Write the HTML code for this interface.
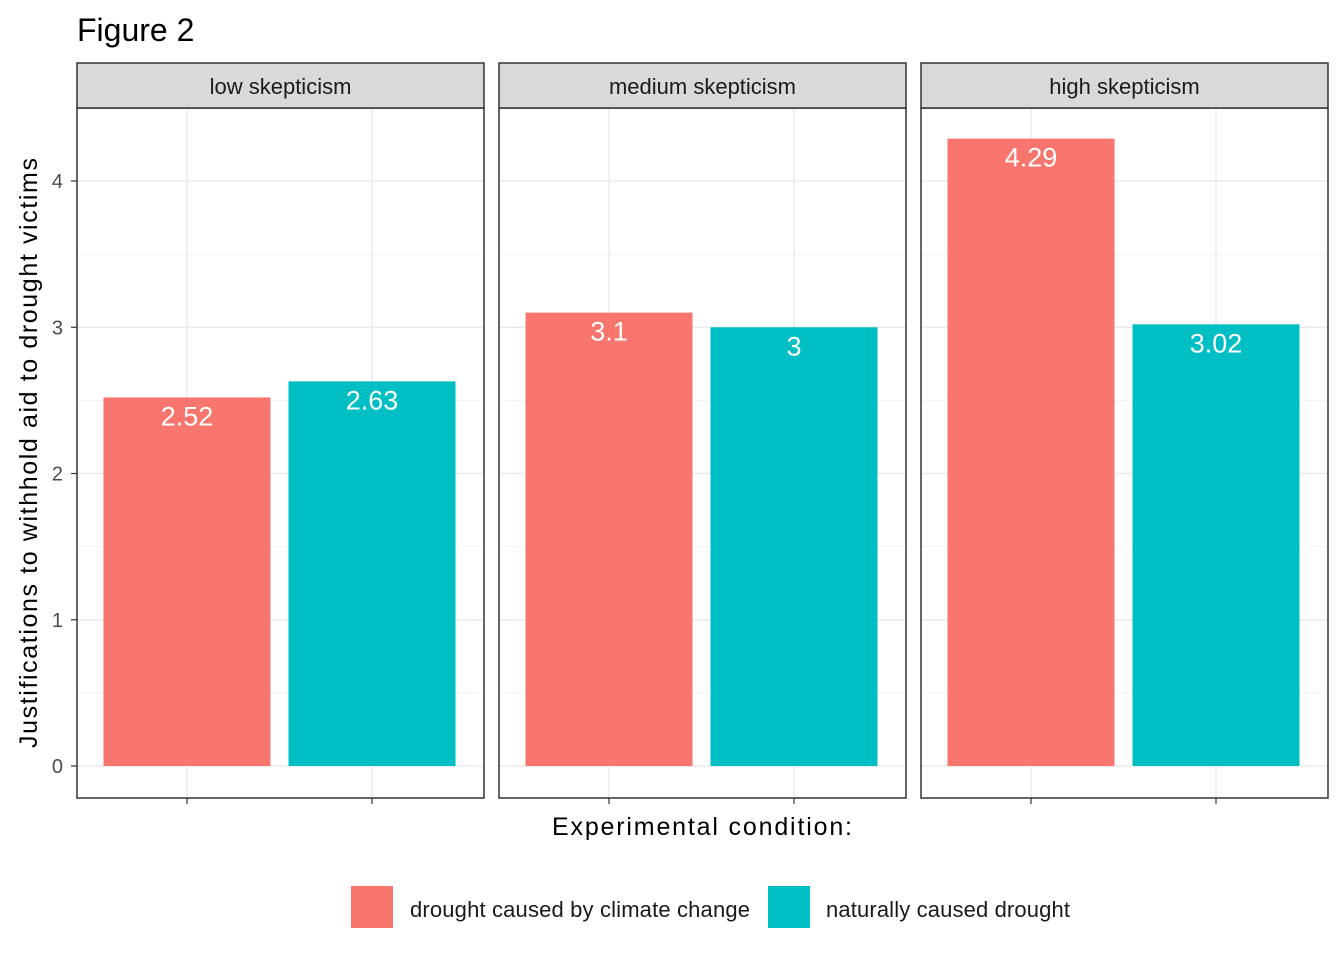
<!DOCTYPE html>
<html><head><meta charset="utf-8"><style>
body{margin:0;background:#fff;}
svg{display:block;font-family:"Liberation Sans",Arial,sans-serif;}
</style></head><body>
<svg id="chart" width="1344" height="960">
<text x="77" y="41" font-size="32" fill="#000">Figure 2</text>
<text transform="translate(37,453) rotate(-90)" text-anchor="middle" font-size="25" fill="#000" textLength="590">Justifications to withhold aid to drought victims</text>
<text x="702" y="835" text-anchor="middle" font-size="25" fill="#000" textLength="300">Experimental condition:</text>
<g>
<rect x="351" y="886" width="42" height="42" fill="#F8766D"/>
<text x="410" y="917" font-size="22" fill="#1a1a1a" textLength="340">drought caused by climate change</text>
<rect x="768" y="886" width="42" height="42" fill="#00BFC4"/>
<text x="826" y="917" font-size="22" fill="#1a1a1a" textLength="244">naturally caused drought</text>
</g>
<g id="panels"></g>
</svg>
<script>
const panelNames = ["low skepticism","medium skepticism","high skepticism"];
const climateValues = [2.52, 3.1, 4.29];
const naturalValues = [2.63, 3, 3.02];
const climateLabels = ["2.52","3.1","4.29"];
const naturalLabels = ["2.63","3","3.02"];
const yTicks = [0,1,2,3,4];

const NS="http://www.w3.org/2000/svg";
const g=document.getElementById('panels');
const panelX=[77,499,921], panelW=407, pTop=108, pBottom=798;
const y=v=>766-v*146.25;
function mk(tag,attrs){const e=document.createElementNS(NS,tag);for(const k in attrs)e.setAttribute(k,attrs[k]);g.appendChild(e);return e;}
panelNames.forEach((name,i)=>{
  const x0=panelX[i];
  const bg=mk('rect',{x:x0,y:pTop,width:panelW,height:pBottom-pTop,fill:'#fff'});
  
  
  for(let v=0.5;v<=4.5;v+=1){const l=mk('line',{x1:x0,x2:x0+panelW,y1:y(v),y2:y(v),stroke:'#f2f2f2','stroke-width':1});
    
    }
  yTicks.forEach(v=>{const l=mk('line',{x1:x0,x2:x0+panelW,y1:y(v),y2:y(v),stroke:'#ebebeb','stroke-width':1.5});
    
    });
  const cx=[x0+110,x0+295];
  cx.forEach(c=>{const l=mk('line',{x1:c,x2:c,y1:pTop,y2:pBottom,stroke:'#ebebeb','stroke-width':1.5});
    
    
    const t=mk('line',{x1:c,x2:c,y1:pBottom,y2:pBottom+6,stroke:'#333','stroke-width':1.2});
    
    });
  const vals=[climateValues[i],naturalValues[i]], labs=[climateLabels[i],naturalLabels[i]], cols=['#F8766D','#00BFC4'];
  vals.forEach((v,j)=>{
    const b=mk('rect',{x:cx[j]-83.5,y:y(v),width:167,height:y(0)-y(v),fill:cols[j]});
    
    
    const t=mk('text',{x:cx[j],y:y(v)+28,'text-anchor':'middle','font-size':27,fill:'#fff'});
    t.textContent=labs[j];
    
    
  });
  const br=mk('rect',{x:x0,y:pTop,width:panelW,height:pBottom-pTop,fill:'none',stroke:'#333','stroke-width':1.5});
  
  
  const s=mk('rect',{x:x0,y:63,width:panelW,height:45,fill:'#d9d9d9',stroke:'#333','stroke-width':1.5});
  
  
  const st=mk('text',{x:x0+panelW/2,y:94,'text-anchor':'middle','font-size':22,fill:'#1a1a1a'});
  st.textContent=name;
  
  
});
yTicks.forEach(v=>{
  const t=mk('line',{x1:71,x2:77,y1:y(v),y2:y(v),stroke:'#333','stroke-width':1.2});
  
  
  const l=mk('text',{x:63,y:y(v)+7,'text-anchor':'end','font-size':20,fill:'#4d4d4d'});
  l.textContent=v;
  
  
});
</script>
</body></html>
